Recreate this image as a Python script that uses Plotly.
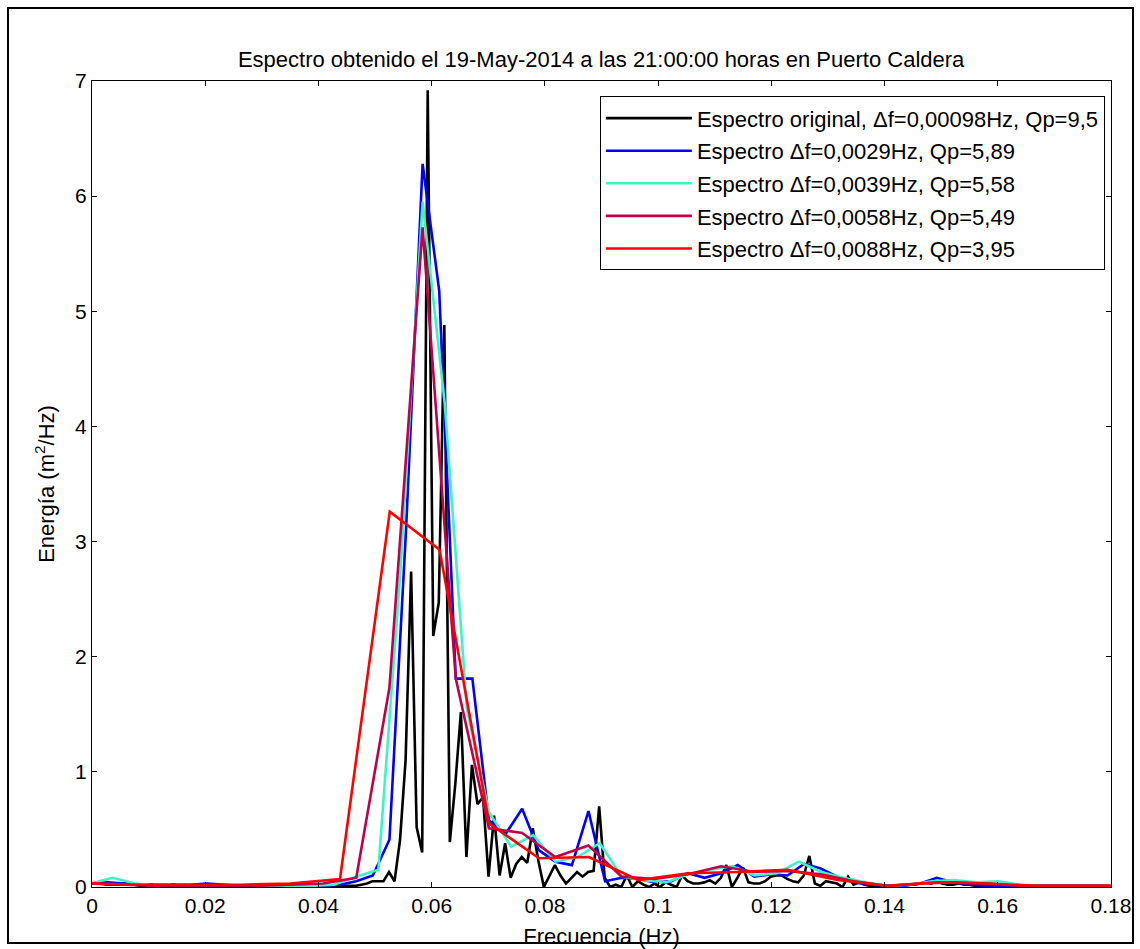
import numpy as np
import plotly.graph_objects as go

# ---------------- data ----------------
series_names = [
    "Espectro original, Δf=0,00098Hz, Qp=9,5",
    "Espectro Δf=0,0029Hz, Qp=5,89",
    "Espectro Δf=0,0039Hz, Qp=5,58",
    "Espectro Δf=0,0058Hz, Qp=5,49",
    "Espectro Δf=0,0088Hz, Qp=3,95",
]
series_colors = ["#000000", "#0000FF", "#3DF5C4", "#C0004A", "#FF0000"]

# black: original spectrum
black_step = 0.000977
black_peak_f = 0.0593
black_left = [0.03, 0.03, 0.02, 0.02, 0.02, 0.03, 0.04, 0.02, 0.01, 0.01,
              0.02, 0.01, 0.01, 0.01, 0.02, 0.01, 0.01, 0.01, 0.01, 0.01,
              0.02, 0.01, 0.01, 0.01, 0.01, 0.01, 0.01, 0.01, 0.01, 0.01,
              0.01, 0.01, 0.01, 0.01, 0.01, 0.01, 0.01, 0.01, 0.01, 0.01,
              0.01, 0.01, 0.01, 0.01, 0.01, 0.01, 0.01,
              0.01, 0.02, 0.03, 0.05, 0.05, 0.05, 0.13, 0.05, 0.41, 1.10,
              2.74, 0.52, 0.30]
black_peak = [6.92]
black_right = [2.18, 2.47, 4.88, 0.39, 0.90, 1.52, 0.26, 1.06, 0.72, 0.78,
               0.09, 0.62, 0.10, 0.38, 0.08, 0.20, 0.26, 0.21, 0.51, 0.23,
               0.00, 0.10, 0.19, 0.10, 0.03, 0.08, 0.13, 0.09, 0.13, 0.14,
               0.70,
               0.08, 0.00, 0.02, 0.00, 0.10, 0.00, 0.05, 0.02, 0.00, 0.03,
               0.00, 0.04, 0.02, 0.00, 0.10, 0.05, 0.03, 0.03, 0.04, 0.06,
               0.03, 0.08, 0.19, 0.00, 0.08, 0.17, 0.04, 0.03, 0.03, 0.05,
               0.09, 0.10, 0.10, 0.07, 0.05, 0.04, 0.10, 0.27, 0.03, 0.01,
               0.05, 0.04, 0.03, 0.00, 0.09, 0.02, 0.04,
               0.02, 0.01, 0.01, 0.01, 0.00, 0.01, 0.01, 0.01, 0.02, 0.02,
               0.03, 0.04, 0.03, 0.05, 0.03, 0.02, 0.02, 0.03, 0.02, 0.02,
               0.01, 0.01, 0.02, 0.01, 0.01, 0.01, 0.01, 0.01, 0.01, 0.01,
               0.01, 0.01, 0.01, 0.01, 0.01, 0.01, 0.01, 0.01, 0.01, 0.01,
               0.01, 0.01, 0.01, 0.01, 0.01]

# blue
blue_step = 0.00293
blue_peak_f = 0.0584
blue_left = [0.03, 0.04, 0.03, 0.02, 0.02, 0.02, 0.02, 0.03, 0.02, 0.01,
             0.01, 0.01, 0.01, 0.01, 0.01, 0.02, 0.05, 0.10, 0.41, 3.10]
blue_peak = [6.28]
blue_right = [5.18, 1.81, 1.81, 0.58, 0.46, 0.68, 0.32, 0.22, 0.19, 0.66,
              0.05, 0.08, 0.07, 0.04, 0.05, 0.12, 0.08, 0.12, 0.19, 0.09,
              0.11, 0.10, 0.20, 0.16, 0.09, 0.04, 0.02, 0.01, 0.01, 0.03,
              0.08, 0.04, 0.02, 0.01, 0.01, 0.01, 0.01, 0.01, 0.01, 0.01,
              0.01]

# cyan
cyan_step = 0.00391
cyan_peak_f = 0.0584
cyan_left = [0.03, 0.08, 0.03, 0.01, 0.01, 0.01, 0.01, 0.01, 0.01, 0.01,
             0.01, 0.02, 0.09, 0.15, 2.75]
cyan_peak = [5.95]
cyan_right = [4.20, 1.55, 0.65, 0.35, 0.45, 0.22, 0.26, 0.38, 0.09, 0.06,
              0.04, 0.11, 0.15, 0.18, 0.10, 0.12, 0.22, 0.13, 0.08, 0.04,
              0.01, 0.02, 0.05, 0.06, 0.04, 0.05, 0.02, 0.01, 0.01, 0.01,
              0.01]

# crimson
crimson_step = 0.00586
crimson_peak_f = 0.0584
crimson_left = [0.03, 0.02, 0.01, 0.01, 0.01, 0.01, 0.02, 0.03, 0.08, 1.73]
crimson_peak = [5.73]
crimson_right = [1.81, 0.51, 0.47, 0.26, 0.36, 0.09, 0.07, 0.11, 0.18, 0.13,
                 0.14, 0.11, 0.05, 0.01, 0.03, 0.04, 0.03, 0.01, 0.01, 0.01,
                 0.01]

# red
red_step = 0.00879
red_peak_f = 0.0526
red_left = [0.03, 0.02, 0.02, 0.02, 0.03, 0.07]
red_peak = [3.26]
red_right = [2.93, 0.55, 0.25, 0.26, 0.06, 0.12, 0.13, 0.15, 0.06, 0.01,
             0.04, 0.03, 0.01, 0.01, 0.01]

x_ticks = [0, 0.02, 0.04, 0.06, 0.08, 0.1, 0.12, 0.14, 0.16, 0.18]
x_tick_labels = ["0", "0.02", "0.04", "0.06", "0.08", "0.1", "0.12", "0.14", "0.16", "0.18"]
y_ticks = [0, 1, 2, 3, 4, 5, 6, 7]

title_text = "Espectro obtenido el 19-May-2014 a las 21:00:00 horas en Puerto Caldera"
x_title = "Frecuencia (Hz)"
y_title = "Energía (m<sup>2</sup>/Hz)"


def build(step, peak_f, left, peak, right):
    vals = list(left) + list(peak) + list(right)
    start = peak_f - len(left) * step
    f = start + step * np.arange(len(vals))
    return f, vals


series = [
    build(black_step, black_peak_f, black_left, black_peak, black_right),
    build(blue_step, blue_peak_f, blue_left, blue_peak, blue_right),
    build(cyan_step, cyan_peak_f, cyan_left, cyan_peak, cyan_right),
    build(crimson_step, crimson_peak_f, crimson_left, crimson_peak, crimson_right),
    build(red_step, red_peak_f, red_left, red_peak, red_right),
]

FONT = "Liberation Sans, Arial, sans-serif"
FS = 22

fig = go.Figure()
for i, ((f, v), name, col) in enumerate(zip(series, series_names, series_colors)):
    fig.add_trace(go.Scatter(
        x=f, y=v, mode="lines", name=name,
        line=dict(color=col, width=2.6),
        legendgroup=f"g{i}",
    ))

fig.update_layout(
    width=1140, height=949,
    margin=dict(l=92, r=29, t=81, b=62),
    paper_bgcolor="white", plot_bgcolor="white",
    font=dict(family=FONT, size=FS, color="black"),
    title=dict(text=title_text, x=0.5273, xanchor="center", y=0.937, yanchor="middle",
               font=dict(family=FONT, size=FS, color="black")),
    showlegend=True,
    legend=dict(
        x=0.994, xanchor="right", y=0.981, yanchor="top",
        bgcolor="white", bordercolor="black", borderwidth=1,
        font=dict(family=FONT, size=FS, color="black"),
        tracegroupgap=1, itemwidth=86,
    ),
)

fig.update_xaxes(
    range=[0, 0.18], tickvals=x_ticks, ticktext=x_tick_labels,
    showline=True, linecolor="black", linewidth=1, mirror="ticks",
    ticks="inside", ticklen=5, tickcolor="black",
    showgrid=False, zeroline=False, automargin=False,
    tickfont=dict(family=FONT, size=21, color="black"),
    title=dict(text=x_title, standoff=12, font=dict(family=FONT, size=FS, color="black")),
)
fig.update_yaxes(
    range=[0, 7], tickvals=y_ticks,
    showline=True, linecolor="black", linewidth=1, mirror="ticks",
    ticks="inside", ticklen=5, tickcolor="black",
    showgrid=False, zeroline=False, automargin=False,
    tickfont=dict(family=FONT, size=21, color="black"),
    title=dict(text=y_title, standoff=14, font=dict(family=FONT, size=FS, color="black")),
)

# outer figure frame
fig.add_shape(type="rect", xref="paper", yref="paper",
              x0=(8 - 92) / 1019, x1=(1133 - 92) / 1019,
              y0=(887 - 943) / 806, y1=(887 - 8) / 806,
              line=dict(color="black", width=2), layer="below")

fig.write_html("out.html")
